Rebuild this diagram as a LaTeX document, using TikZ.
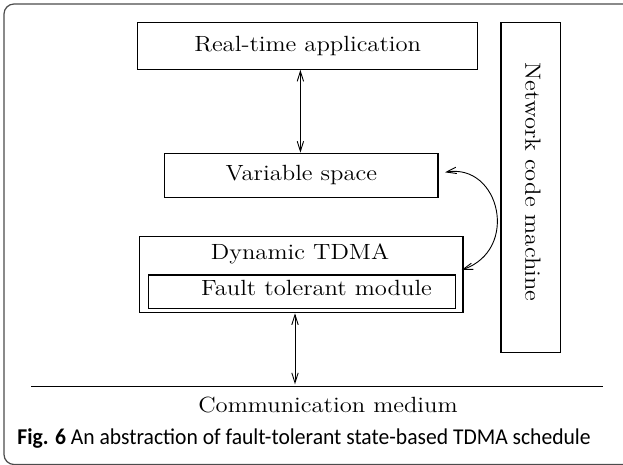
\documentclass[tikz,border=0pt]{standalone}
\usepackage{fontspec}
\newfontfamily\capfont{Carlito}
\usetikzlibrary{arrows.meta}
\newcommand{\sx}[1]{\scalebox{1.12}[1]{#1}}
\begin{document}
\begin{tikzpicture}[x=0.5pt,y=-0.5pt,
  font=\fontsize{11}{13}\selectfont,
  box/.style={draw, line width=0.6pt, inner sep=0pt},
  lbl/.style={inner sep=0pt},
  arr/.style={line width=0.45pt, {Straight Barb[length=5pt,width=3.2pt]}-{Straight Barb[length=5pt,width=3.2pt]}}]
\useasboundingbox (0,0) rectangle (623,465);
\draw[gray!60!black, line width=0.6pt, rounded corners=5pt] (623,4) -- (4,4) -- (4,464.5) -- (623,464.5);
\node[box, minimum width=170pt, minimum height=23.5pt] (rta) at (307.7,45.8) {\sx{Real-time application}};
\node[box, minimum width=136.65pt, minimum height=22.2pt] (vs) at (301.35,175.5) {\sx{Variable space}};
\node[box, minimum width=29.65pt, minimum height=165.2pt] (ncm) at (530.65,187.5) {};
\node[lbl, rotate=-90] (ncmt) at (533,182) {\sx{Network code machine}};
\node[box, minimum width=161.85pt, minimum height=38pt] (dyn) at (301.15,274.7) {};
\node[lbl, anchor=base] (dynt) at (300,259.5) {\sx{Dynamic TDMA}};
\node[box, minimum width=153.7pt, minimum height=16.65pt] (ft) at (302,291.65) {};
\node[lbl, anchor=base] (ftt) at (316.5,296) {\sx{Fault tolerant module}};
\coordinate (l1) at (31,386.7);
\coordinate (l2) at (603.3,386.7);
\draw[line width=0.5pt] (l1) -- (l2);
\coordinate (m) at (295,384.3);
\node[lbl, anchor=base] (cm) at (328,412.7) {\sx{Communication medium}};
\draw[arr] (rta.south -| 300.4,0) -- (vs.north -| 300.4,0);
\draw[arr] (dyn.south -| m) -- (m);
\coordinate (c1) at (445,172.3);
\coordinate (c2) at (461.5,270);
\draw[arr] (c1) .. controls (500,163) and (520,250) .. (c2);
\node[lbl, anchor=base west] (cap) at (17,445) {\capfont\fontsize{11.3}{13}\selectfont\scalebox{0.955}[1]{\textbf{Fig. 6} An abstraction of fault-tolerant state-based TDMA schedule}};
\end{tikzpicture}
\end{document}
